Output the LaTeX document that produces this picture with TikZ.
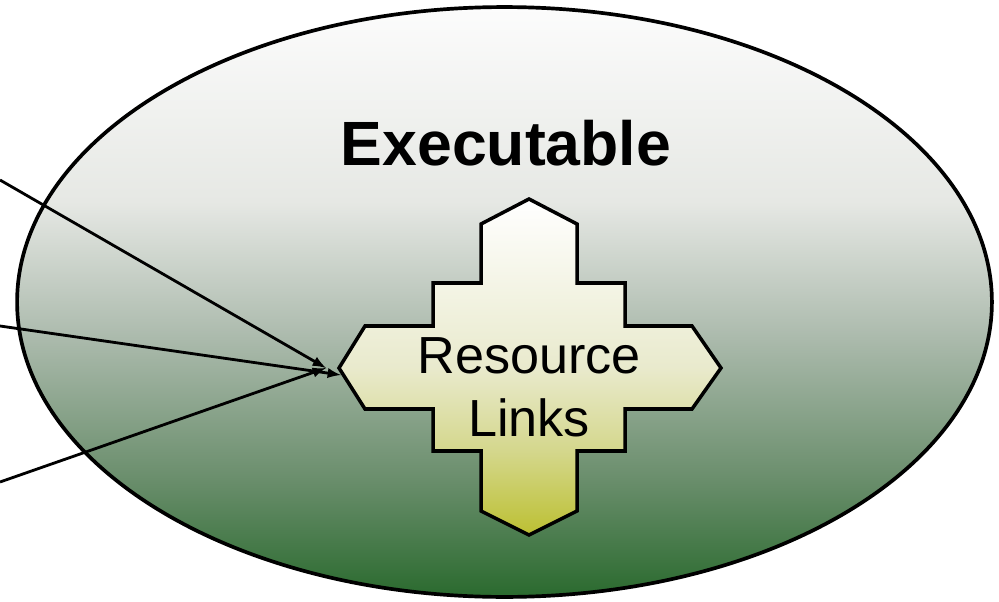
\documentclass[tikz,border=0pt]{standalone}
\usepackage{fontspec}
\setmainfont{Liberation Sans}
\usetikzlibrary{shapes,arrows,positioning}

\definecolor{exetop}{RGB}{252,252,252}
\definecolor{exeupper}{RGB}{230,232,228}
\definecolor{exemid}{RGB}{174,188,175}
\definecolor{exelower}{RGB}{106,142,108}
\definecolor{exebottom}{RGB}{42,106,46}
\definecolor{rltop}{RGB}{255,255,255}
\definecolor{rlmid}{RGB}{233,234,205}
\definecolor{rllower}{RGB}{212,215,140}
\definecolor{rlbottom}{RGB}{188,192,50}

\pgfdeclareverticalshading{exeshade}{100bp}{color(0bp)=(exebottom); color(25bp)=(exebottom);
  color(35bp)=(exelower); color(47.5bp)=(exemid); color(58.5bp)=(exeupper);
  color(75bp)=(exetop); color(100bp)=(exetop)}
\pgfdeclareverticalshading{rlshade}{100bp}{color(0bp)=(rlbottom); color(25bp)=(rlbottom);
  color(37.5bp)=(rllower); color(50bp)=(rlmid); color(75bp)=(rltop); color(100bp)=(rltop)}

\tikzset{
  feed/.style={-latex, line width=1.6pt},
  blob/.style={draw, line width=2.1pt, ellipse, inner sep=0pt, shading=exeshade},
  plate/.style={draw, line width=2pt, shading=rlshade}
}

\begin{document}
\begin{tikzpicture}[x=0.02cm, y=-0.02cm]
    \useasboundingbox (0,0) rectangle (999,601);

    % draw the outer ellipse
    \node[blob, minimum width=19.5cm, minimum height=11.8cm] (exe) at (504.5,302) {};
    \node[font=\bfseries\fontsize{35.6}{42}\selectfont] (exetitle) at (506,143.5) {Executable};

    % draw the cross
    \path[plate] (529,199) -- (577,224) -- (577,283) -- (625,283) -- (625,326) -- (692,326)
      -- (721,368) -- (692,409) -- (625,409) -- (625,451) -- (577,451) -- (577,511)
      -- (529,535) -- (481,511) -- (481,451) -- (433,451) -- (433,409) -- (365,409)
      -- (339,368) -- (365,326) -- (433,326) -- (433,283) -- (481,283) -- (481,224) -- cycle;
    \node[align=center, font=\fontsize{29.7}{35.6}\selectfont, inner sep=0pt] (rltext) at (529,387.5) {Resource\\Links};
    \coordinate (rlwest) at (341,375);
    \coordinate (rltip) at (326,368);

    % draw incoming arrows
    \coordinate (srcA) at (0,180);
    \coordinate (srcB) at (0,326);
    \coordinate (srcC) at (0,482);
    \draw[feed] (srcA) -- (rltip);
    \draw[feed] (srcB) -- (rlwest);
    \draw[feed] (srcC) -- (rltip);
\end{tikzpicture}
\end{document}
